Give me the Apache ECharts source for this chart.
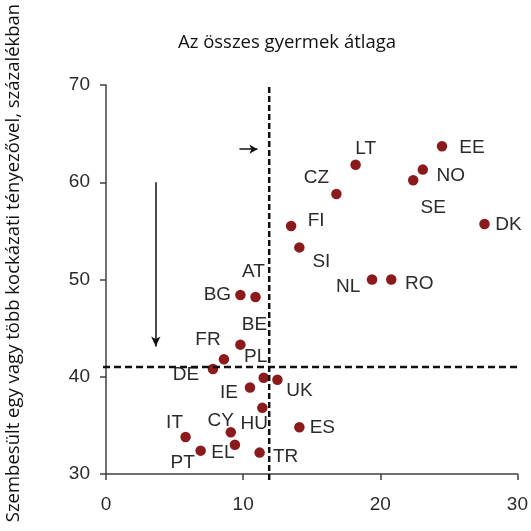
<!DOCTYPE html>
<html>
<head>
<meta charset="utf-8">
<script src="https://cdn.jsdelivr.net/npm/echarts@6/dist/echarts.min.js"></script>
<style>
  html, body { margin: 0; padding: 0; background: #fff; }
  #chart { width: 531px; height: 531px; }
</style>
</head>
<body>
<div id="chart"></div>
<script>
// országok és értékek (leolvasva az ábráról)
const countries = ['EE', 'LT', 'NO', 'SE', 'CZ', 'FI', 'DK', 'SI', 'NL', 'RO',
  'AT', 'BG', 'BE', 'FR', 'DE', 'PL', 'IE', 'UK', 'HU', 'CY', 'IT', 'EL', 'PT', 'TR', 'ES'];
const xValues = [24.5, 18.2, 23.1, 22.4, 16.8, 13.5, 27.6, 14.1, 19.4, 20.8,
  10.9, 9.8, 9.8, 8.6, 7.8, 11.5, 10.5, 12.5, 11.4, 9.1, 5.8, 9.4, 6.9, 11.2, 14.1];
const yValues = [63.7, 61.8, 61.3, 60.2, 58.8, 55.5, 55.7, 53.3, 50.0, 50.0,
  48.2, 48.4, 43.3, 41.8, 40.8, 39.9, 38.9, 39.7, 36.8, 34.3, 33.8, 33.0, 32.4, 32.2, 34.8];
const xTicks = [0, 10, 20, 30];
const yTicks = [30, 40, 50, 60, 70];
// átlagvonalak
const avgX = 11.9;
const avgY = 41.0;

// címkék elhelyezése a pont közepéhez képest (px)
const labelOffset = {
  EE: [30, 1], LT: [10, -16], NO: [28, 6], SE: [20, 27], CZ: [-20, -16],
  FI: [25, -5], DK: [24, 1], SI: [22, 14], NL: [-24, 7], RO: [28, 4],
  AT: [-2, -25], BG: [-23, 0], BE: [14, -20], FR: [-16, -19], DE: [-27, 6],
  PL: [-8, -21], IE: [-21, 5], UK: [22, 11], HU: [-8, 16], CY: [-10, -11],
  IT: [-11, -14], EL: [-12, 8], PT: [-18, 12], TR: [26, 4], ES: [23, 0]
};

const chart = echarts.init(document.getElementById('chart'));

const axisCol = '#404040';
const textCol = '#2b2b2b';

const points = countries.map((c, i) => ({
  name: c,
  value: [xValues[i], yValues[i]],
  label: { offset: labelOffset[c] }
}));

const option = {
  animation: false,
  title: {
    text: 'Az összes gyermek átlaga',
    left: 282,
    top: 28,
    textAlign: 'center',
    textStyle: { fontFamily: 'Open Sans', fontWeight: 'normal', fontSize: 18.5, color: '#111' }
  },
  grid: { left: 106, right: 12, top: 85, bottom: 57 },
  xAxis: {
    type: 'value',
    min: xTicks[0],
    max: xTicks[xTicks.length - 1],
    interval: 10,
    splitLine: { show: false },
    axisLine: { lineStyle: { color: axisCol, width: 1.5 } },
    axisTick: { length: 6, lineStyle: { color: axisCol, width: 1.5 } },
    axisLabel: { color: textCol, fontFamily: 'Liberation Sans', fontSize: 19, margin: 21 }
  },
  yAxis: {
    type: 'value',
    min: yTicks[0],
    max: yTicks[yTicks.length - 1],
    interval: 10,
    splitLine: { show: false },
    axisLine: { show: true, lineStyle: { color: axisCol, width: 1.5 } },
    axisTick: { show: true, length: 6, lineStyle: { color: axisCol, width: 1.5 } },
    axisLabel: { color: textCol, fontFamily: 'Liberation Sans', fontSize: 19, margin: 16 }
  },
  series: [{
    type: 'scatter',
    symbolSize: 10.5,
    itemStyle: { color: '#8b1a1d', opacity: 1 },
    label: {
      show: true,
      position: 'inside',
      formatter: '{b}',
      color: textCol,
      fontFamily: 'Liberation Sans',
      fontSize: 19
    },
    data: points,
    markLine: {
      silent: true,
      symbol: 'none',
      label: { show: false },
      data: [
        [{ coord: [9.73, 63.4], symbol: 'none', lineStyle: { type: 'solid', width: 1.5, color: '#111' } },
         { coord: [11.04, 63.4], symbol: 'arrow', symbolSize: [7, 8] }],
        [{ coord: [3.63, 60.0], symbol: 'none', lineStyle: { type: 'solid', width: 1.5, color: '#111' } },
         { coord: [3.63, 43.1], symbol: 'arrow', symbolSize: [7, 10] }]
      ]
    }
  }]
};

chart.setOption(option);

// szaggatott átlagvonalak: a tengelyeken kicsit túlnyúlnak
function addAvgLines() {
  const top = chart.convertToPixel({ gridIndex: 0 }, [avgX, yTicks[yTicks.length - 1]]);
  const bottom = chart.convertToPixel({ gridIndex: 0 }, [avgX, yTicks[0]]);
  const left = chart.convertToPixel({ gridIndex: 0 }, [xTicks[0], avgY]);
  const right = chart.convertToPixel({ gridIndex: 0 }, [xTicks[xTicks.length - 1], avgY]);
  chart.setOption({
    graphic: [{
      type: 'line',
      id: 'vavg',
      shape: { x1: top[0], y1: top[1] + 2, x2: bottom[0], y2: bottom[1] + 9 },
      style: { stroke: '#111', lineWidth: 2.5, lineDash: [6, 3] },
      z: 10
    }, {
      type: 'line',
      id: 'havg',
      shape: { x1: left[0] - 3, y1: left[1], x2: right[0] + 3, y2: right[1] },
      style: { stroke: '#111', lineWidth: 2.5, lineDash: [7, 4] },
      z: 10
    }, {
      type: 'text',
      id: 'yname',
      x: 14,
      y: 263,
      rotation: Math.PI / 2,
      style: {
        text: 'Szembesült egy vagy több kockázati tényezővel, százalékban',
        fontFamily: 'Open Sans',
        fontSize: 18.5,
        fill: '#111',
        align: 'center',
        verticalAlign: 'middle'
      }
    }]
  });
}
addAvgLines();

window.addEventListener('resize', function () {
  chart.resize();
  addAvgLines();
});
</script>
</body>
</html>
